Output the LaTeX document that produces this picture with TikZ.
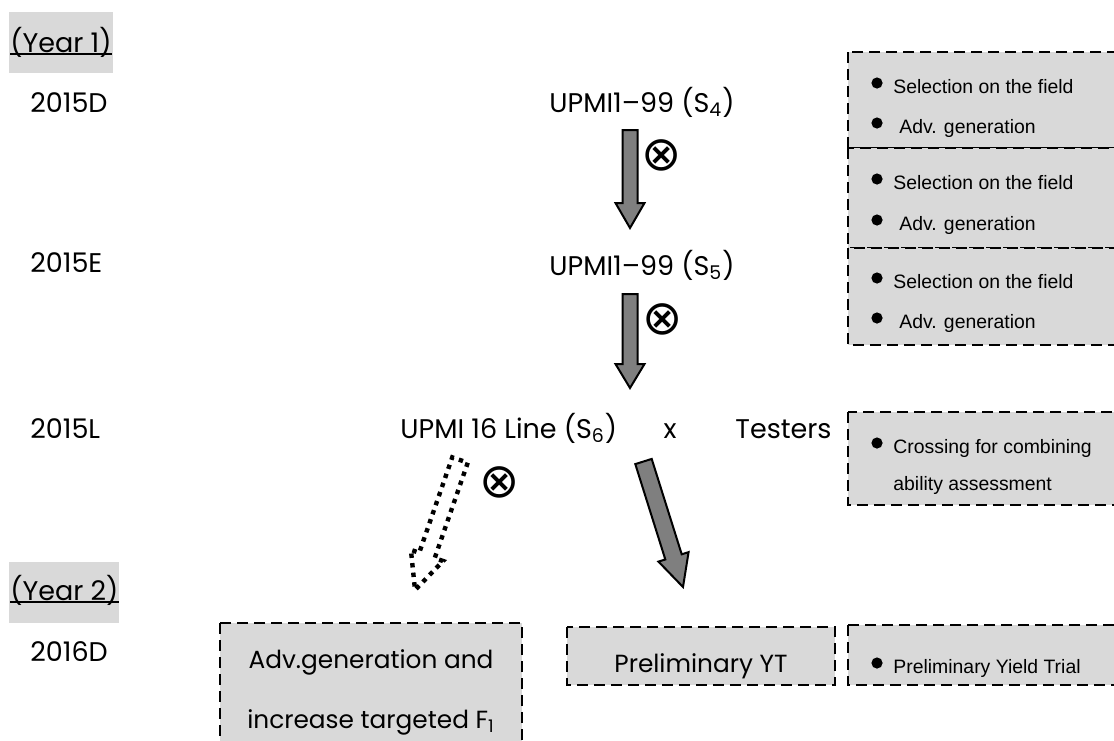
\documentclass[tikz,border=0pt]{standalone}
\usepackage{fontspec}
\setmainfont{Poppins}
\newfontfamily\arialf{Liberation Sans}
\newfontfamily\symf{DejaVu Sans}
\usetikzlibrary{calc}
\definecolor{boxgray}{HTML}{D9D9D9}
\definecolor{arrgray}{HTML}{7F7F7F}
\tikzset{
 lbl/.style={anchor=base west, inner sep=0, font=\fontsize{13.5}{16}\selectfont},
 upmi/.style={anchor=base, inner sep=0, font=\fontsize{13.5}{16}\selectfont},
 boxtxt/.style={anchor=base, inner sep=0, font=\fontsize{12.4}{15}\selectfont},
 item/.style={anchor=base west, inner sep=0, font=\arialf\fontsize{9.7}{11}\selectfont},
 dbox/.style={draw=black, fill=boxgray, line width=1.2pt, dash pattern=on 5.5pt off 3pt},
 blk/.style={draw=black, fill=arrgray, line width=1pt, line join=miter},
 dotarrow/.style={draw=black, line width=2.2pt, dash pattern=on 2.2pt off 2.6pt},
 selfx/.style={inner sep=0, font=\symf\fontsize{24}{24}\selectfont},
 bul/.style={fill=black},
}
% #1 style, #2 start, #3 tip, #4 shaft half width, #5 head half width, #6 head length
\newcommand{\blockarr}[6]{%
  \coordinate (bhH) at ($(#3)!#6!(#2)$);
  \path[#1] ($(#2)!#4!90:(#3)$) -- ($(bhH)!#4!90:(#3)$) -- ($(bhH)!#5!90:(#3)$)
     -- (#3) -- ($(bhH)!#5!-90:(#3)$) -- ($(bhH)!#4!-90:(#3)$) -- ($(#2)!#4!-90:(#3)$) -- cycle;
}
\begin{document}
\begin{tikzpicture}[x=0.5pt,y=-0.5pt]
\useasboundingbox (0,0) rectangle (1114,740);
\clip (0,0) rectangle (1114,740);

% year headers
\fill[boxgray] (9,12) rectangle (113,73);
\node[lbl] (y1) at (10,52) {(Year 1)};
\draw[line width=0.8pt] ([yshift=-1pt]y1.base west) -- ([yshift=-1pt]y1.base east);
\fill[boxgray] (9,562) rectangle (119,623);
\node[lbl] (y2) at (10,600) {(Year 2)};
\draw[line width=0.8pt] ([yshift=-1pt]y2.base west) -- ([yshift=-1pt]y2.base east);

% season labels
\node[lbl] (s1) at (30,112) {2015D};
\node[lbl] (s2) at (30,272) {2015E};
\node[lbl] (s3) at (30,438) {2015L};
\node[lbl] (s4) at (30,661) {2016D};

% central texts
\node[upmi] (u4) at (642,112) {UPMI1–99 (S\textsubscript{4})};
\node[upmi] (u5) at (642,275) {UPMI1–99 (S\textsubscript{5})};
\node[lbl] (u6) at (400,438) {UPMI 16 Line (S\textsubscript{6})};
\node[upmi] (cx) at (670,438) {x};
\node[lbl] (te) at (735,438) {Testers};

% arrows
\coordinate (a1s) at (630,130); \coordinate (a1e) at (630,228);
\coordinate (a2s) at (630,294); \coordinate (a2e) at (630,388);
\coordinate (a3s) at (643.5,461.5); \coordinate (a3e) at (683,587);
\coordinate (a4s) at (460,460); \coordinate (a4e) at (415,590);
\blockarr{blk}{a1s}{a1e}{3.75pt}{7.25pt}{12.5pt}
\blockarr{blk}{a2s}{a2e}{3.75pt}{7.25pt}{12pt}
\blockarr{blk}{a3s}{a3e}{4.3pt}{7.9pt}{15.8pt}
\blockarr{dotarrow}{a4s}{a4e}{4.1pt}{8.5pt}{18.3pt}

\node[selfx] (x1) at (662,155) {⊗};
\node[selfx] (x2) at (663,319) {⊗};
\node[selfx] (x3) at (500,482) {⊗};

% bottom boxes
\draw[dbox] (220,623) rectangle (522,760);
\node[boxtxt] (b1a) at (371,668) {Adv.generation and};
\node[boxtxt] (b1b) at (371,728) {increase targeted F\textsubscript{1}};
\draw[dbox] (567,627) rectangle (835,685);
\node[boxtxt] (b2) at (701,672) {Preliminary YT};

% right boxes
\draw[dbox] (848,52) rectangle (1125,148);
\draw[dbox] (848,148) rectangle (1125,248);
\draw[dbox] (848,248) rectangle (1125,345);
\draw[dbox] (848,412) rectangle (1125,505);
\draw[dbox] (848,625) rectangle (1125,685);

\fill[bul] (877,83) circle (2.8pt);  \node[item] (r1a) at (893,93) {Selection on the field};
\fill[bul] (877,123) circle (2.8pt); \node[item] (r1b) at (899,133) {Adv. generation};
\fill[bul] (877,179) circle (2.8pt); \node[item] (r2a) at (893,189) {Selection on the field};
\fill[bul] (877,220) circle (2.8pt); \node[item] (r2b) at (899,230) {Adv. generation};
\fill[bul] (877,278) circle (2.8pt); \node[item] (r3a) at (893,288) {Selection on the field};
\fill[bul] (877,318) circle (2.8pt); \node[item] (r3b) at (899,328) {Adv. generation};
\fill[bul] (877,443) circle (2.8pt); \node[item] (r4a) at (893,453) {Crossing for combining};
\node[item] (r4b) at (893,490) {ability assessment};
\fill[bul] (877,663) circle (2.8pt); \node[item] (r5) at (893,673) {Preliminary Yield Trial};
\end{tikzpicture}
\end{document}
